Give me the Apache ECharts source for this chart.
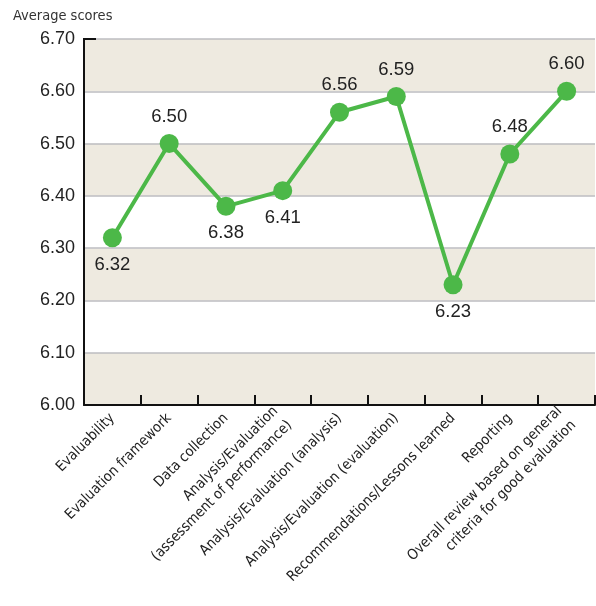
<!DOCTYPE html>
<html>
<head>
<meta charset="utf-8">
<script src="https://cdn.jsdelivr.net/npm/echarts@6/dist/echarts.min.js"></script>
<style>
  html, body { margin: 0; padding: 0; background: #ffffff; }
  #chart { width: 596px; height: 606px; }
</style>
</head>
<body>
<div id="chart"></div>
<script>
// Evaluation aspects and their average scores
const categories = [
  'Evaluability',
  'Evaluation framework',
  'Data collection',
  'Analysis/Evaluation\n(assessment of performance)',
  'Analysis/Evaluation (analysis)',
  'Analysis/Evaluation (evaluation)',
  'Recommendations/Lessons learned',
  'Reporting',
  'Overall review based on general\ncriteria for good evaluation'
];
const scores = [6.32, 6.50, 6.38, 6.41, 6.56, 6.59, 6.23, 6.48, 6.60];
// Data label placement per point
const labelSides = ['bottom', 'top', 'bottom', 'bottom', 'top', 'top', 'bottom', 'top', 'top'];

const yMin = 6.0, yMax = 6.7, yStep = 0.1;
const narrow = '"Liberation Sans Narrow", "DejaVu Sans Condensed", "Roboto Condensed", sans-serif';
const regular = '"Liberation Sans", Arial, Helvetica, sans-serif';

const chart = echarts.init(document.getElementById('chart'), null, { renderer: 'canvas' });

chart.setOption({
  animation: false,
  backgroundColor: '#ffffff',
  grid: { left: 84, right: 1, top: 39, bottom: 201 },
  title: {
    text: 'Average scores',
    left: 13, top: 9,
    padding: 0,
    textStyle: { fontFamily: narrow, fontSize: 14.5, fontWeight: 'normal', color: '#333333' }
  },
  xAxis: {
    type: 'category',
    data: categories,
    boundaryGap: true,
    axisLine: { show: true, onZero: false, lineStyle: { color: '#111111', width: 2 } },
    axisTick: { show: true, inside: true, length: 10, lineStyle: { color: '#111111', width: 2 } },
    axisLabel: {
      interval: 0,
      rotate: 45,
      margin: 11,
      fontFamily: narrow,
      fontSize: 14.5,
      lineHeight: 20,
      color: '#222222'
    },
    splitLine: { show: false }
  },
  yAxis: {
    type: 'value',
    min: yMin, max: yMax, interval: yStep,
    axisLine: { show: true, lineStyle: { color: '#111111', width: 2 } },
    axisTick: { show: false },
    axisLabel: {
      margin: 9,
      fontFamily: regular,
      fontSize: 18,
      color: '#222222',
      formatter: v => v.toFixed(2)
    },
    splitLine: { show: true, lineStyle: { color: '#bdbcc0', width: 1.5 } },
    splitArea: { show: true, areaStyle: { color: ['#eeeae0', '#ffffff'] } }
  },
  series: [{
    type: 'line',
    data: scores.map((v, i) => ({
      value: v,
      label: { position: labelSides[i] }
    })),
    lineStyle: { color: '#4cb848', width: 4 },
    itemStyle: { color: '#4cb848' },
    symbol: 'circle',
    symbolSize: 19,
    z: 5,
    label: {
      show: true,
      distance: 8,
      fontFamily: regular,
      fontSize: 18.5,
      color: '#222222',
      formatter: p => p.value.toFixed(2)
    }
  }]
});

// Short tick stub marking the top of the value axis
const axisTopY = chart.convertToPixel({ yAxisIndex: 0 }, yMax);
chart.setOption({
  graphic: [{
    type: 'line',
    shape: { x1: 83, y1: axisTopY, x2: 96, y2: axisTopY },
    style: { stroke: '#111111', lineWidth: 2 },
    z: 10
  }]
});
</script>
</body>
</html>
